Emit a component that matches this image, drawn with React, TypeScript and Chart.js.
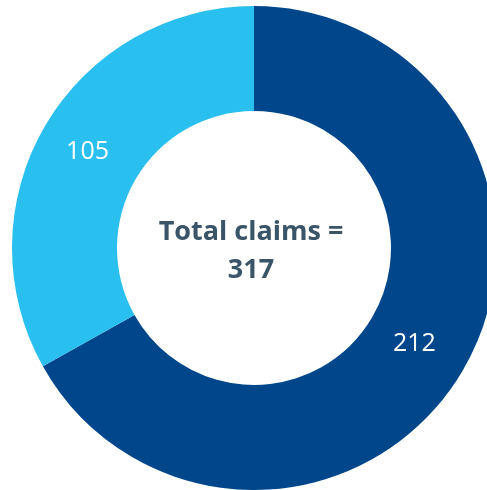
import React, { useEffect, useRef } from "react";
import { Chart, registerables } from "chart.js";

Chart.register(...registerables);

const categories = ["Category A", "Category B"];
const claimValues = [212, 105];
const sliceColors = ["#00468B", "#29BFEE"];
const centerLines = ["Total claims =", "317"];

const labelPlugin = {
  id: "sliceLabels",
  afterDatasetsDraw(chart: any) {
    const ctx = chart.ctx;
    const meta = chart.getDatasetMeta(0);
    const data = chart.data.datasets[0].data as number[];
    ctx.save();
    ctx.fillStyle = "#ffffff";
    ctx.font = "25px 'Open Sans'";
    ctx.textAlign = "center";
    ctx.textBaseline = "middle";
    meta.data.forEach((el: any, i: number) => {
      const p = el.tooltipPosition();
      ctx.fillText(String(data[i]), p.x - 3, p.y + 0);
    });
    const first = meta.data[0];
    const cx = first.x;
    const cy = first.y;
    ctx.fillStyle = "#3A5468";
    ctx.font = "bold 27px 'Open Sans'";
    ctx.textBaseline = "alphabetic";
    ctx.fillText(centerLines[0], cx - 3, cy - 8);
    ctx.fillText(centerLines[1], cx - 3, cy + 30);
    ctx.restore();
  },
};

export default function App() {
  const ref = useRef<HTMLCanvasElement | null>(null);
  useEffect(() => {
    if (!ref.current) return;
    const chart = new Chart(ref.current, {
      type: "doughnut",
      data: {
        labels: categories,
        datasets: [
          {
            data: claimValues,
            backgroundColor: sliceColors,
            borderWidth: 0,
          },
        ],
      },
      options: {
        animation: false,
        responsive: false,
        cutout: "56.6%",
        plugins: {
          legend: { display: false },
          tooltip: { enabled: false },
        },
        layout: { padding: 0 },
      },
      plugins: [labelPlugin],
    });
    return () => chart.destroy();
  }, []);
  return (
    <div
      style={{
        position: "fixed",
        left: 0,
        top: 0,
        width: 487,
        height: 490,
        overflow: "hidden",
        background: "#ffffff",
      }}
    >
      <canvas
        ref={ref}
        width={484}
        height={484}
        style={{ position: "absolute", left: 12, top: 6, width: 484, height: 484 }}
      />
    </div>
  );
}
